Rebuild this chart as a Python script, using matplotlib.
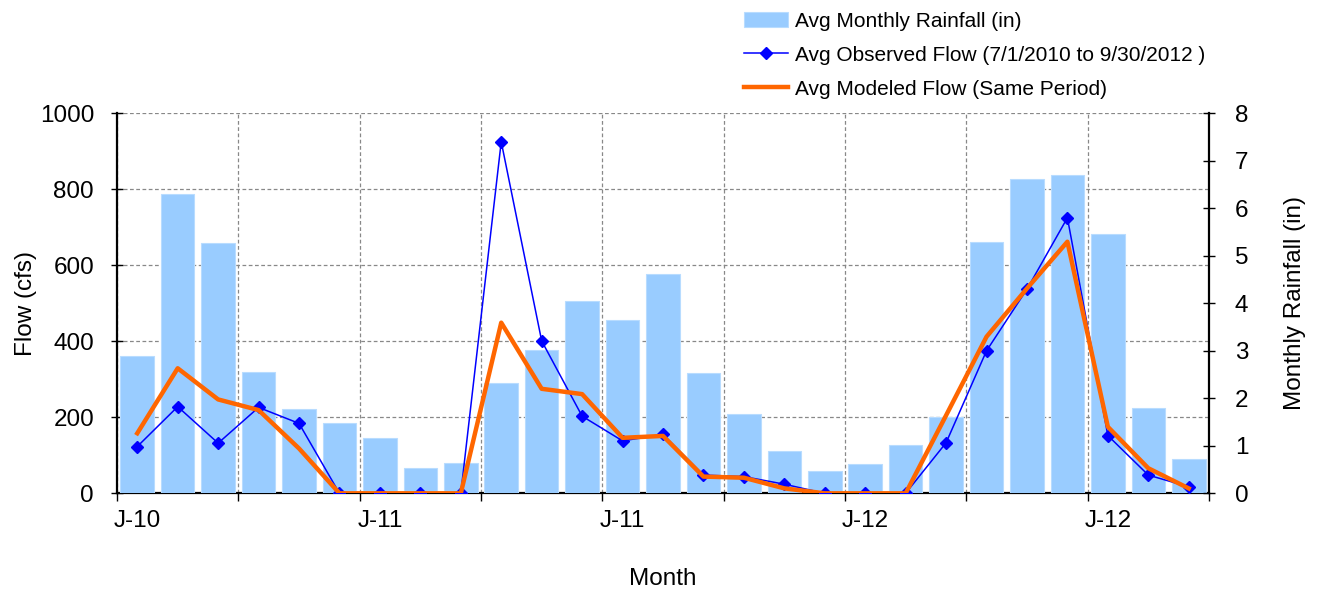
import matplotlib.pyplot as plt
import numpy as np

plt.rcParams['font.family'] = ['Liberation Sans', 'DejaVu Sans']

# monthly categories, Jul 2010 .. Sep 2012
months = ["Jul-10", "Aug-10", "Sep-10", "Oct-10", "Nov-10", "Dec-10",
          "Jan-11", "Feb-11", "Mar-11", "Apr-11", "May-11", "Jun-11",
          "Jul-11", "Aug-11", "Sep-11", "Oct-11", "Nov-11", "Dec-11",
          "Jan-12", "Feb-12", "Mar-12", "Apr-12", "May-12", "Jun-12",
          "Jul-12", "Aug-12", "Sep-12"]

rainfall = [2.90, 6.29, 5.26, 2.55, 1.77, 1.47, 1.16, 0.53, 0.63,
            2.32, 3.02, 4.04, 3.64, 4.61, 2.53, 1.67, 0.90, 0.47,
            0.62, 1.02, 1.60, 5.28, 6.61, 6.70, 5.45, 1.79, 0.72]

observed = [123, 228, 132, 226, 184, 0, 0, 0, 0,
            925, 401, 203, 138, 155, 48, 44, 24, 0,
            0, 0, 133, 375, 537, 725, 152, 48, 17]

modeled = [158, 329, 247, 219, 118, 0, 0, 0, 0,
           449, 275, 261, 146, 151, 44, 41, 13, 0,
           0, 0, 205, 412, 539, 662, 175, 66, 13]

x = np.arange(len(months))
label_pos = x[::6]
tick_labels = [m[0] + "-" + m[-2:] for m in months[::6]]

fs = 17.5

fig = plt.figure(figsize=(13.24, 5.92), dpi=100)
ax = fig.add_axes([0.0884, 0.1667, 0.8247, 0.642])   # flow axis + grid
ax2 = ax.twinx()                                      # rainfall bars
ax3 = ax.twinx()                                      # flow lines on top
ax2.set_zorder(1)
ax3.set_zorder(2)
ax2.patch.set_visible(False)
ax3.patch.set_visible(False)

bars = ax2.bar(x, rainfall, width=0.83, color='#99CCFF', edgecolor='#B8DCFF',
               linewidth=0.8, label='Avg Monthly Rainfall (in)')
l1, = ax3.plot(x, observed, color='#0000FF', lw=1.1, marker='D', ms=6.5,
               label='Avg Observed Flow (7/1/2010 to 9/30/2012 )')
l2, = ax3.plot(x, modeled, color='#FF6600', lw=3.2,
               label='Avg Modeled Flow (Same Period)')

for a in (ax, ax2, ax3):
    a.set_xlim(-0.5, len(months) - 0.5)
ax.set_ylim(0, 1000)
ax3.set_ylim(0, 1000)
ax2.set_ylim(0, 8)
ax3.axis('off')

ax.set_yticks(np.arange(0, 1001, 200))
ax2.set_yticks(np.arange(0, 9, 1))
ax.set_xticks(np.arange(-0.5, len(months), 3))
ax.set_xticklabels([])
ax.set_xticks(label_pos, minor=True)
ax.set_xticklabels(tick_labels, minor=True)
ax.tick_params(axis='x', which='minor', length=0, pad=12, labelsize=fs)
ax.tick_params(axis='x', which='major', direction='out', length=6, width=1)
ax.tick_params(axis='y', direction='inout', length=9, width=1, labelsize=fs, pad=12)
ax2.tick_params(axis='y', direction='inout', length=9, width=1, labelsize=fs, pad=14)

ax.grid(True, which='major', color='#888888', linestyle=(0, (3, 2)), linewidth=0.9)
ax.spines['top'].set_visible(False)
for a in (ax2,):
    a.spines['top'].set_visible(False)
    a.spines['left'].set_visible(False)
    a.spines['bottom'].set_visible(False)
    a.spines['right'].set_linewidth(1.6)
ax.spines['left'].set_linewidth(1.6)
ax.spines['bottom'].set_linewidth(1.6)
ax.spines['right'].set_visible(False)

ax.set_ylabel('Flow (cfs)', fontsize=fs, labelpad=2)
ax2.set_ylabel('Monthly Rainfall (in)', fontsize=fs, labelpad=26)
ax.set_xlabel('Month', fontsize=fs, labelpad=26)

fig.legend(handles=[bars, l1, l2], loc='upper left', bbox_to_anchor=(0.548, 1.012),
           frameon=False, fontsize=15, handlelength=2.1, handletextpad=0.35,
           labelspacing=0.72)

fig.savefig('out.png', dpi=100)
